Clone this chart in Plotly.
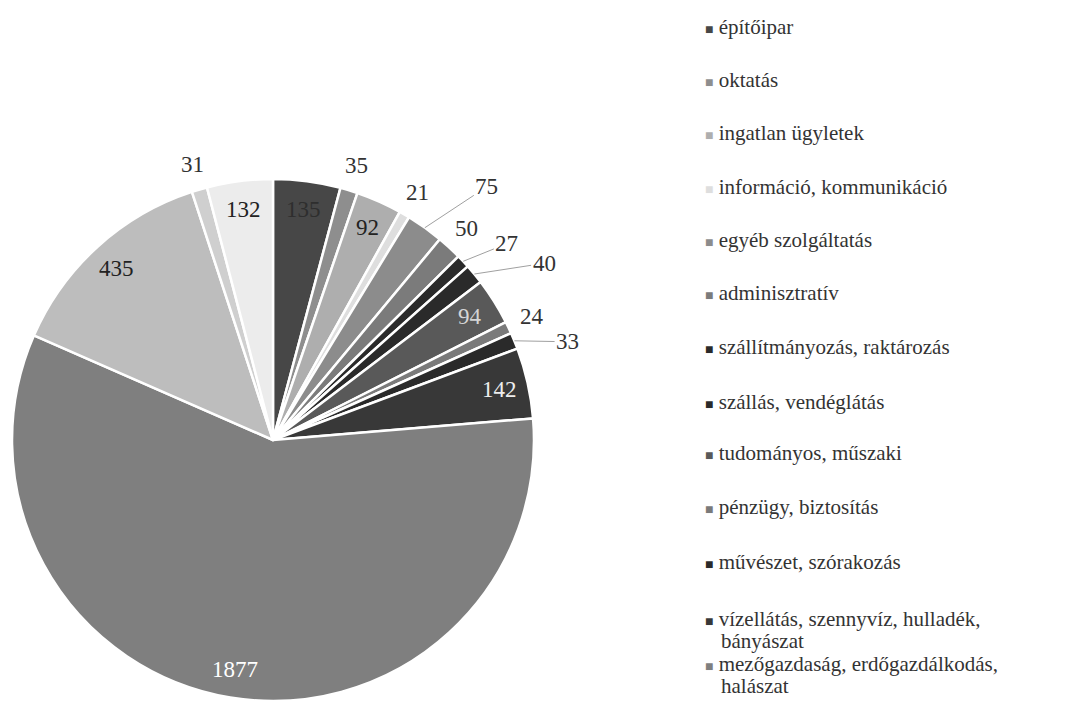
import math
import plotly.graph_objects as go

# slices, clockwise from 12 o'clock
labels = [
    "építőipar", "oktatás", "ingatlan ügyletek", "információ, kommunikáció",
    "egyéb szolgáltatás", "adminisztratív", "szállítmányozás, raktározás",
    "szállás, vendéglátás", "tudományos, műszaki", "pénzügy, biztosítás",
    "művészet, szórakozás", "vízellátás, szennyvíz, hulladék, bányászat",
    "mezőgazdaság, erdőgazdálkodás, halászat", "egyéb 1", "egyéb 2", "egyéb 3",
]
values = [135, 35, 92, 21, 75, 50, 27, 40, 94, 24, 33, 142, 1877, 435, 31, 132]
colors = ["#474747", "#8e8e8e", "#aeaeae", "#dedede", "#8c8c8c", "#7b7b7b",
          "#2a2a2a", "#2a2a2a", "#595959", "#7a7a7a", "#2a2a2a", "#383838",
          "#7f7f7f", "#bdbdbd", "#cfcfcf", "#ececec"]
text_colors = ["#2e2e2e", "#333", "#222", "#333", "#333", "#333", "#333", "#333",
               "#d5d5d5", "#333", "#333", "#eeeeee", "#ffffff", "#222", "#333", "#222"]
inside = [True, False, True, False, False, False, False, False,
          True, False, False, True, True, True, False, True]

legend_names = [
    "építőipar", "oktatás", "ingatlan ügyletek", "információ, kommunikáció",
    "egyéb szolgáltatás", "adminisztratív", "szállítmányozás, raktározás",
    "szállás, vendéglátás", "tudományos, műszaki", "pénzügy, biztosítás",
    "művészet, szórakozás", "vízellátás, szennyvíz, hulladék,<br>bányászat",
    "mezőgazdaság, erdőgazdálkodás,<br>halászat",
]

# page body adds an 8px margin, so the figure is 8px smaller than the window
W, H = 1057, 698
font = "Liberation Serif, Times New Roman, serif"
dom_x = [0.0038, 0.4976]
dom_y = [0.0072, 0.755]

# pulled-out labels with leader lines: slice index -> (radius factor, extra angle)
pulled = {4: (1.27, 4.6), 6: (1.17, 3.2), 7: (1.24, 6.4), 10: (1.19, 3.9)}
legend_rows = [19, 72, 125, 179, 232, 285, 339, 394, 445, 499, 554, 611, 656]
line_gap = 22

fig = go.Figure()
fig.add_trace(go.Pie(
    labels=labels, values=values, sort=False, direction="clockwise", rotation=0,
    marker=dict(colors=colors, line=dict(color="white", width=2.5)),
    textinfo="none", domain=dict(x=dom_x, y=dom_y),
    showlegend=False, hoverinfo="label+value",
))

# data labels placed along each slice's mid angle
cx = (dom_x[0] + dom_x[1]) / 2 * W
cy = (1 - (dom_y[0] + dom_y[1]) / 2) * H
r = min((dom_x[1] - dom_x[0]) * W, (dom_y[1] - dom_y[0]) * H) / 2
total = sum(values)
annotations = []
cum = 0
for i, v in enumerate(values):
    mid = (cum + v / 2) / total * 2 * math.pi
    cum += v
    lab = dict(text=str(v), xref="paper", yref="paper", xanchor="center",
               yanchor="middle", font=dict(family=font, size=23,
                                           color=text_colors[i] if inside[i] else "#333"))
    if i in pulled:
        fr, da = pulled[i]
        a2 = mid + math.radians(da)
        px0, py0 = cx + r * math.sin(mid), cy - r * math.cos(mid)
        px1, py1 = cx + fr * r * math.sin(a2), cy - fr * r * math.cos(a2)
        lab.update(x=px0 / W, y=1 - py0 / H, showarrow=True, arrowhead=0,
                   arrowwidth=1, arrowcolor="#a0a0a0", standoff=0,
                   ax=px1 - px0, ay=py1 - py0)
    else:
        fr = 0.89 if inside[i] else 1.10
        px1, py1 = cx + fr * r * math.sin(mid), cy - fr * r * math.cos(mid)
        lab.update(x=px1 / W, y=1 - py1 / H, showarrow=False)
    annotations.append(lab)

# legend (only the first 13 categories are listed), wrapped lines set by hand
for name, col, row in zip(legend_names, colors, legend_rows):
    for k, part in enumerate(name.split("<br>")):
        mark = f"<span style='color:{col};font-size:14px'>■</span> " if k == 0 else ""
        annotations.append(dict(
            x=(695 if k == 0 else 711) / W, y=1 - (row + k * line_gap) / H,
            xref="paper", yref="paper",
            xanchor="left", yanchor="middle", align="left", showarrow=False,
            text=mark + part,
            font=dict(family=font, size=21, color="#333333"),
        ))

fig.update_layout(
    width=W, height=H,
    margin=dict(l=0, r=0, t=0, b=0),
    paper_bgcolor="white", plot_bgcolor="white",
    annotations=annotations,
)
fig.write_html("out.html")
